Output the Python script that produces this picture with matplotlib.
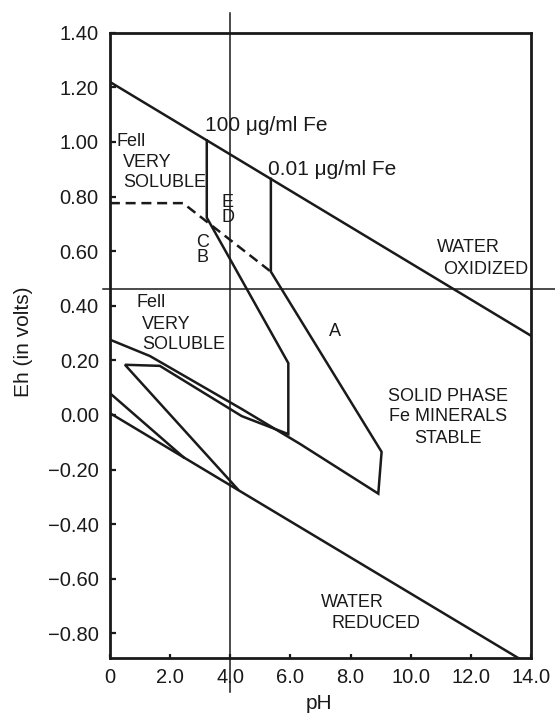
import matplotlib
matplotlib.use("Agg")
import matplotlib.pyplot as plt

plt.rcParams['font.family'] = ['Liberation Sans', 'DejaVu Sans']

# Eh-pH boundaries, Eh in volts
water_ox_ph = [0.0, 14.0]
water_ox_eh = [1.22, 0.29]
water_red_ph = [0.0, 13.57]
water_red_eh = [0.007, -0.89]

# 100 ug/ml Fe field (B, C, D, E)
fe100_ph = [3.22, 3.22, 5.93, 5.93, 4.38, 1.66, 0.50, 4.25]
fe100_eh = [1.006, 0.723, 0.19, -0.070, -0.004, 0.18, 0.184, -0.272]

# 0.01 ug/ml Fe field (A)
fe001_ph = [5.35, 5.35, 9.03, 8.92, 6.32, 4.38, 1.33, 0.0]
fe001_eh = [0.865, 0.525, -0.135, -0.288, -0.106, 0.022, 0.216, 0.276]

# FeII / FeIII dashed boundary
dash_ph = [0.0, 2.43, 5.35]
dash_eh = [0.776, 0.776, 0.525]

# short boundary off the left axis
low_ph = [0.0, 2.45]
low_eh = [0.08, -0.155]

# reference cross lines
ref_eh = 0.46
ref_ph = 4.0

eh_ticks = [1.4, 1.2, 1.0, 0.8, 0.6, 0.4, 0.2, 0.0, -0.2, -0.4, -0.6, -0.8]
eh_labels = ['1.40', '1.20', '1.00', '0.80', '0.60', '0.40', '0.20', '0.00',
             '\u22120.20', '\u22120.40', '\u22120.60', '\u22120.80']
ph_ticks = [0, 2, 4, 6, 8, 10, 12, 14]
ph_labels = ['0', '2.0', '4.0', '6.0', '8.0', '10.0', '12.0', '14.0']

ink = '#1a1a1a'
fig = plt.figure(figsize=(5.55, 7.17), dpi=100)
ax = fig.add_axes([0.198, 0.0823, 0.759, 0.872])

lw = 1.8
ax.plot(water_ox_ph, water_ox_eh, color=ink, lw=lw)
ax.plot(water_red_ph, water_red_eh, color=ink, lw=lw)
ax.plot(fe100_ph, fe100_eh, color=ink, lw=lw, solid_joinstyle='miter')
ax.plot(fe001_ph, fe001_eh, color=ink, lw=lw, solid_joinstyle='miter')
ax.plot(low_ph, low_eh, color=ink, lw=lw)
ax.plot(dash_ph, dash_eh, color=ink, lw=lw, linestyle=(0, (4, 2.3)))

ax.axhline(ref_eh, xmin=-0.017, xmax=1.06, color=ink, lw=1.1, clip_on=False)
ax.axvline(ref_ph, ymin=-0.054, ymax=1.032, color=ink, lw=1.1, clip_on=False)

ax.set_xlim(0, 14)
ax.set_ylim(-0.89, 1.40)
ax.set_yticks(eh_ticks)
ax.set_yticklabels(eh_labels)
ax.set_xticks(ph_ticks)
ax.set_xticklabels(ph_labels)
ax.tick_params(axis='y', direction='in', length=4, width=1.6, pad=8,
               labelsize=14.5, colors=ink)
ax.tick_params(axis='x', direction='in', length=3, width=1.6, pad=7,
               labelsize=14.5, colors=ink)
for s in ax.spines.values():
    s.set_linewidth(2.0)
    s.set_color(ink)

ax.set_xlabel('pH', fontsize=15, color=ink)
ax.xaxis.set_label_coords(0.496, -0.058)
ax.set_ylabel('Eh (in volts)', fontsize=15, color=ink)
ax.yaxis.set_label_coords(-0.183, 0.506)

# field labels: (text, pH, Eh, ha, size)
notes = [
    ('100 \u03bcg/ml Fe', 3.16, 1.059, 'left', 15),
    ('0.01 \u03bcg/ml Fe', 5.25, 0.90, 'left', 15),
    ('Fell', 0.23, 1.0, 'left', 13),
    ('VERY', 0.43, 0.926, 'left', 13),
    ('SOLUBLE', 0.43, 0.853, 'left', 13),
    ('Fell', 0.90, 0.412, 'left', 13),
    ('VERY', 1.06, 0.331, 'left', 13),
    ('SOLUBLE', 1.06, 0.257, 'left', 13),
    ('E\nD', 3.92, 0.752, 'center', 13),
    ('C\nB', 3.09, 0.605, 'center', 13),
    ('A', 7.48, 0.305, 'center', 13),
    ('WATER', 11.9, 0.614, 'center', 13),
    ('OXIDIZED', 12.5, 0.533, 'center', 13),
    ('SOLID PHASE', 11.24, 0.066, 'center', 13),
    ('Fe MINERALS', 11.24, -0.007, 'center', 13),
    ('STABLE', 11.24, -0.085, 'center', 13),
    ('WATER', 8.05, -0.688, 'center', 13),
    ('REDUCED', 8.85, -0.765, 'center', 13),
]
for txt, x, y, ha, size in notes:
    ax.text(x, y, txt, ha=ha, va='center', fontsize=size, color=ink,
            linespacing=0.82)

fig.savefig('out.png', dpi=100, facecolor='white')
